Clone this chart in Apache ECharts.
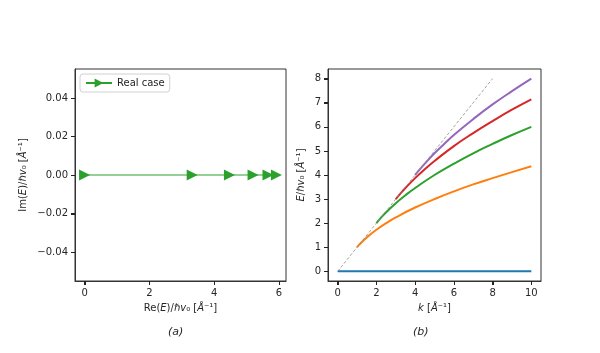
<!DOCTYPE html>
<html><head><meta charset="utf-8">
<script src="https://cdn.jsdelivr.net/npm/echarts@6/dist/echarts.min.js"></script>
<style>html,body{margin:0;padding:0;background:#fff}#c{width:600px;height:353px}</style>
</head><body><div id="c"></div>
<script>
// Panel (a): Real case markers
const reE = [0, 3.32, 4.47, 5.2, 5.66, 5.92];
const imE = [0, 0, 0, 0, 0, 0];
// Panel (b): dispersion branches
const kBlue = [0, 10];
const eBlue = [0, 0];
const kOrange = [1, 1.1, 1.25, 1.5, 2, 2.5, 3, 4, 5, 6, 7, 8, 9, 10];
const eOrange = [1, 1.10, 1.22, 1.41, 1.73, 2.0, 2.24, 2.65, 3.0, 3.32, 3.61, 3.87, 4.12, 4.36];
const kGreen = [2, 2.25, 2.5, 3, 3.5, 4, 5, 6, 7, 8, 9, 10];
const eGreen = [2, 2.24, 2.45, 2.83, 3.16, 3.46, 4, 4.47, 4.90, 5.29, 5.66, 6];
const kRed = [3, 3.25, 3.5, 4, 4.5, 5, 6, 7, 8, 9, 10];
const eRed = [3, 3.24, 3.46, 3.87, 4.24, 4.58, 5.20, 5.74, 6.24, 6.71, 7.14];
const kPurple = [4, 4.25, 4.5, 5, 5.5, 6, 7, 8, 9, 10];
const ePurple = [4, 4.24, 4.47, 4.90, 5.29, 5.66, 6.32, 6.93, 7.48, 8];
const kDash = [0, 8];
const eDash = [0, 8];
// Tick labels
const ticksAX = [0, 2, 4, 6];
const ticksAY = [-0.04, -0.02, 0, 0.02, 0.04];
const ticksBX = [0, 2, 4, 6, 8, 10];
const ticksBY = [0, 1, 2, 3, 4, 5, 6, 7, 8];

const zip = (a, b) => a.map((v, i) => [v, b[i]]);
const FONT = 'DejaVu Sans';
const TXT = '#262626';
const rich = {
  n: {fontFamily: FONT, fontSize: 10, color: TXT},
  i: {fontFamily: FONT, fontSize: 10, color: TXT, fontStyle: 'italic'}
};
const minus = v => (v < 0 ? '\u2212' : '') + Math.abs(v);
function axisCommon(custom, fmt) {
  return {
    axisLine: {show: true, onZero: false, lineStyle: {color: '#333', width: 1}},
    splitLine: {show: false},
    axisTick: {show: true, customValues: custom, length: 4, lineStyle: {color: '#222', width: 1}},
    axisLabel: {customValues: custom, formatter: fmt, fontFamily: FONT, fontSize: 10, color: TXT, margin: 7}
  };
}
const axA = {xmin: -0.296, xmax: 6.216, ymin: -0.055, ymax: 0.055};
const axB = {xmin: -0.5, xmax: 10.5, ymin: -0.4, ymax: 8.4};
const chart = echarts.init(document.getElementById('c'));
const titles = [
  {type: 'text', left: 168, top: 327, style: {text: '(a)', font: 'italic 11px "DejaVu Sans"', fill: TXT}},
  {type: 'text', left: 413, top: 327, style: {text: '(b)', font: 'italic 11px "DejaVu Sans"', fill: TXT}}
];
const option = {
  animation: false,
  backgroundColor: '#fff',
  grid: [
    {left: 75, top: 69, width: 211, height: 212, show: true, borderColor: '#333', borderWidth: 1},
    {left: 328, top: 69, width: 213, height: 212, show: true, borderColor: '#333', borderWidth: 1}
  ],
  xAxis: [
    Object.assign({type: 'value', gridIndex: 0, min: axA.xmin, max: axA.xmax,
      name: '{n|Re(}{i|E}{n|)/}{i|ℏv}{n|₀ [}{i|Å}{n|⁻¹]}', nameLocation: 'middle', nameGap: 22,
      nameTextStyle: {rich: rich}}, axisCommon(ticksAX, v => minus(v))),
    Object.assign({type: 'value', gridIndex: 1, min: axB.xmin, max: axB.xmax,
      name: '{i|k}{n| [}{i|Å}{n|⁻¹]}', nameLocation: 'middle', nameGap: 22,
      nameTextStyle: {rich: rich}}, axisCommon(ticksBX, v => minus(v)))
  ],
  yAxis: [
    Object.assign({type: 'value', gridIndex: 0, min: axA.ymin, max: axA.ymax,
      name: '{n|Im(}{i|E}{n|)/}{i|ℏv}{n|₀ [}{i|Å}{n|⁻¹]}', nameLocation: 'middle', nameGap: 47, nameRotate: 90,
      nameTextStyle: {rich: rich}}, axisCommon(ticksAY, v => (v < 0 ? '\u2212' : '') + Math.abs(v).toFixed(2))),
    Object.assign({type: 'value', gridIndex: 1, min: axB.ymin, max: axB.ymax,
      name: '{i|E}{n|/}{i|ℏv}{n|₀ [}{i|Å}{n|⁻¹]}', nameLocation: 'middle', nameGap: 22, nameRotate: 90,
      nameTextStyle: {rich: rich}}, axisCommon(ticksBY, v => minus(v)))
  ],
  legend: {
    data: ['Real case'], left: 80, top: 74, orient: 'vertical',
    backgroundColor: 'rgba(255,255,255,0.8)', borderColor: '#d0d0d0', borderWidth: 1, borderRadius: 3,
    padding: [4, 5, 4, 5], itemWidth: 26, itemHeight: 11,
    textStyle: {fontFamily: FONT, fontSize: 10, color: TXT}
  },
  graphic: {elements: titles},
  series: [
    {name: 'Real case', type: 'line', xAxisIndex: 0, yAxisIndex: 0, data: zip(reE, imE),
      symbol: 'path://M0,0 L10,5 L0,10 Z', symbolSize: [11, 11], showSymbol: true,
      lineStyle: {color: '#2ca02c', width: 1.2}, itemStyle: {color: '#2ca02c'}},
    {type: 'line', xAxisIndex: 1, yAxisIndex: 1, data: zip(kBlue, eBlue), showSymbol: false,
      lineStyle: {color: '#1f77b4', width: 2}},
    {type: 'line', xAxisIndex: 1, yAxisIndex: 1, data: zip(kOrange, eOrange), showSymbol: false, smooth: true,
      lineStyle: {color: '#ff7f0e', width: 2}},
    {type: 'line', xAxisIndex: 1, yAxisIndex: 1, data: zip(kGreen, eGreen), showSymbol: false, smooth: true,
      lineStyle: {color: '#2ca02c', width: 2}},
    {type: 'line', xAxisIndex: 1, yAxisIndex: 1, data: zip(kRed, eRed), showSymbol: false, smooth: true,
      lineStyle: {color: '#d62728', width: 2}},
    {type: 'line', xAxisIndex: 1, yAxisIndex: 1, data: zip(kPurple, ePurple), showSymbol: false, smooth: true,
      lineStyle: {color: '#9467bd', width: 2}},
    {type: 'line', xAxisIndex: 1, yAxisIndex: 1, data: zip(kDash, eDash), showSymbol: false,
      lineStyle: {color: '#8c8c8c', width: 0.8, type: [3, 2]}}
  ]
};
chart.setOption(option);

// Tick marks placed through the library's own axis scales
try {
  const tickEls = [];
  const addTicks = (gi, ax, xs, ys) => {
    xs.forEach(v => {
      const p = chart.convertToPixel({gridIndex: gi}, [v, ax.ymin]);
      tickEls.push({type: 'line', silent: true, z: 10,
        shape: {x1: Math.round(p[0]) + 0.5, y1: p[1], x2: Math.round(p[0]) + 0.5, y2: p[1] + 4},
        style: {stroke: '#222', lineWidth: 1}});
    });
    ys.forEach(v => {
      const p = chart.convertToPixel({gridIndex: gi}, [ax.xmin, v]);
      tickEls.push({type: 'line', silent: true, z: 10,
        shape: {x1: p[0] - 4, y1: Math.round(p[1]) + 0.5, x2: p[0], y2: Math.round(p[1]) + 0.5},
        style: {stroke: '#222', lineWidth: 1}});
    });
  };
  addTicks(0, axA, ticksAX, ticksAY);
  addTicks(1, axB, ticksBX, ticksBY);
  chart.setOption({graphic: {elements: titles.concat(tickEls)}});
} catch (e) { /* keep chart without extra ticks */ }
</script></body></html>
